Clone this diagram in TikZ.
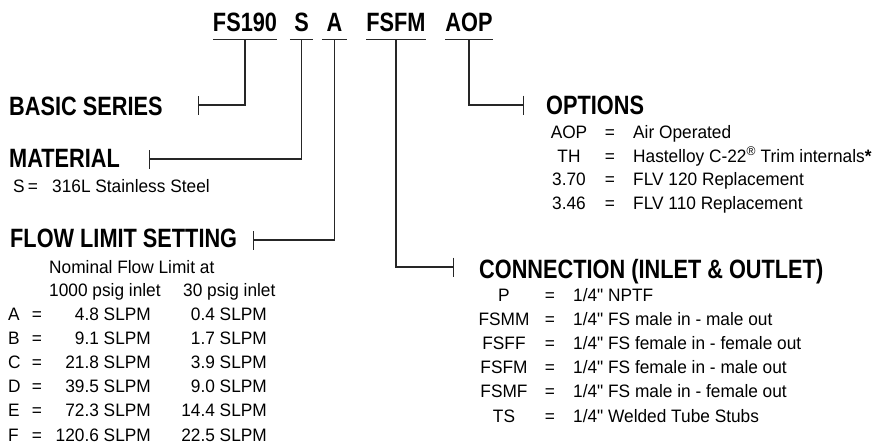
\documentclass[tikz,border=0pt]{standalone}
\usepackage{fontspec}
\setmainfont[FakeStretch=0.96,Ligatures=TeXOff]{Liberation Sans}
\newfontfamily\headfont[FakeStretch=0.82]{Liberation Sans}
\usetikzlibrary{arrows.meta}

\begin{document}
\begin{tikzpicture}[x=1pt,y=-1pt,
  txt/.style={inner sep=0,anchor=base west,font=\fontsize{18}{20}\selectfont},
  ctr/.style={txt,anchor=base},
  rgt/.style={txt,anchor=base east},
  head/.style={inner sep=0,anchor=base west,font=\headfont\bfseries\fontsize{26.5}{28}\selectfont},
  code/.style={head,anchor=base,inner xsep=0,inner ysep=7pt},
  uline/.style={line width=1.2pt,black!85},
  lead/.style={line width=1.2pt,black!85,-{Bar[width=19pt,line width=1.2pt]}}]
\useasboundingbox (0,0) rectangle (882,444);
% model code
\node[code,minimum width=58pt] (fs) at (245,32) {FS190};
\node[code,minimum width=23pt] (mat) at (301.5,32) {S};
\node[code,minimum width=25pt] (flow) at (334.5,32) {A};
\node[code,minimum width=52pt] (conn) at (396,32) {FSFM};
\node[code,minimum width=36pt] (opt) at (469,32) {AOP};
\foreach \n in {fs,mat,flow,conn,opt}
  \draw[uline] (\n.south west) -- (\n.south east);
% headings
\node[head] (hbas) at (9,115) {BASIC SERIES};
\node[head] (hmat) at (9,167) {MATERIAL};
\node[head] (hflow) at (10,247) {FLOW LIMIT SETTING};
\node[head] (hopt) at (546,114) {OPTIONS};
\node[head] (hconn) at (479,278) {CONNECTION (INLET \& OUTLET)};
% leader ends
\coordinate (tbas) at (198,105);
\coordinate (tmat) at (149,159);
\coordinate (tflow) at (253,240);
\coordinate (topt) at (524,105);
\coordinate (tconn) at (454,267);
\draw[lead] (fs.south) |- (tbas);
\draw[lead] (mat.south) |- (tmat);
\draw[lead] (flow.south) |- (tflow);
\draw[lead] (opt.south) |- (topt);
\draw[lead] (conn.south) |- (tconn);
% material
\node[txt] (ms) at (13,192) {S};
\node[ctr] (meq) at (33,192) {=};
\node[txt] (md) at (52,192) {316L Stainless Steel};
% flow limit
\node[txt] (fnom) at (49,273) {Nominal Flow Limit at};
\node[txt] (fhi) at (49,296) {1000 psig inlet};
\node[txt] (flo) at (183,296) {30 psig inlet};
\foreach \c/\v/\w [count=\i] in {A/4.8/0.4,B/9.1/1.7,C/21.8/3.9,D/39.5/9.0,E/72.3/14.4,F/120.6/22.5}{
  \node[txt] (fk\i) at (8,296.4+24.1*\i) {\c};
  \node[ctr] (fe\i) at (37,296.4+24.1*\i) {=};
  \node[rgt] (fv\i) at (151,296.4+24.1*\i) {\v\ SLPM};
  \node[rgt] (fw\i) at (267,296.4+24.1*\i) {\w\ SLPM};
}
% options
\foreach \c/\d [count=\i] in {AOP/{Air Operated},TH/{Hastelloy C-22\textsuperscript{®} Trim internals{\bfseries*}},3.70/{FLV 120 Replacement},3.46/{FLV 110 Replacement}}{
  \node[ctr] (ok\i) at (569,115+23.5*\i) {\c};
  \node[ctr] (oe\i) at (610,115+23.5*\i) {=};
  \node[txt] (od\i) at (633,115+23.5*\i) {\d};
}
% connections
\foreach \c/\d [count=\i] in {P/{1/4" NPTF},FSMM/{1/4" FS male in - male out},FSFF/{1/4" FS female in - female out},FSFM/{1/4" FS female in - male out},FSMF/{1/4" FS male in - female out},TS/{1/4" Welded Tube Stubs}}{
  \node[ctr] (ck\i) at (504,276.8+24.2*\i) {\c};
  \node[ctr] (ce\i) at (550,276.8+24.2*\i) {=};
  \node[txt] (cd\i) at (573,276.8+24.2*\i) {\d};
}
\end{tikzpicture}
\end{document}
